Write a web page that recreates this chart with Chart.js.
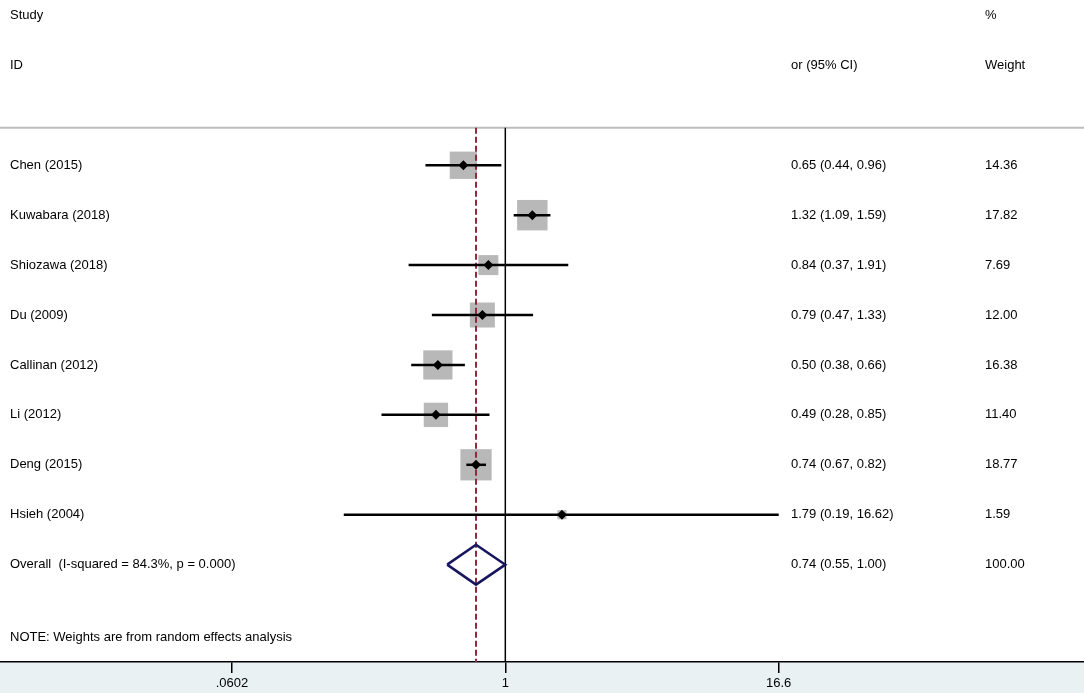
<!DOCTYPE html>
<html>
<head>
<meta charset="utf-8">
<script src="https://cdn.jsdelivr.net/npm/chart.js@4"></script>
<style>
  body { margin: 0; background: #fff; }
  #wrap { width: 1084px; height: 693px; }
</style>
</head>
<body>
<div id="wrap"><canvas id="forestChart" width="1084" height="693"></canvas></div>
<script>
// study data
const studies = ['Chen (2015)', 'Kuwabara (2018)', 'Shiozawa (2018)', 'Du (2009)',
  'Callinan (2012)', 'Li (2012)', 'Deng (2015)', 'Hsieh (2004)'];
const orValues = [0.65, 1.32, 0.84, 0.79, 0.50, 0.49, 0.74, 1.79];
const ciLow = [0.44, 1.09, 0.37, 0.47, 0.38, 0.28, 0.67, 0.19];
const ciHigh = [0.96, 1.59, 1.91, 1.33, 0.66, 0.85, 0.82, 16.62];
const weights = [14.36, 17.82, 7.69, 12.00, 16.38, 11.40, 18.77, 1.59];

const overallLabel = 'Overall  (I-squared = 84.3%, p = 0.000)';
const overallOr = 0.74;
const overallLow = 0.55;
const overallHigh = 1.00;
const overallWeight = 100.00;

const xTicks = [0.0602, 1, 16.6];
const xTickLabels = ['.0602', '1', '16.6'];

// layout helpers (rows on the y scale)
const X_MIN = 0.005548, X_MAX = 383.2;
const Y_MIN = -2.31, Y_MAX = 10.95;
const ROW_STUDY_HDR = -2, ROW_ID_HDR = -1, ROW_RULE = 0.25, ROW_OVERALL = 9, ROW_NOTE = 10.45;
const rows = studies.map((s, i) => i + 1);
const FONT = '13px "Liberation Sans", Arial, sans-serif';

const lineDs = (data, color, width, dash, order) => ({
  type: 'scatter', data, showLine: true, borderColor: color, borderWidth: width,
  borderDash: dash || [], pointRadius: 0, fill: false, tension: 0, order
});

const datasets = [];

// point estimates (black diamonds), on top
datasets.push({
  type: 'scatter',
  data: orValues.map((v, i) => ({ x: v, y: rows[i] })),
  pointStyle: 'rectRot', pointRadius: 5, backgroundColor: '#000', borderWidth: 0, order: 0
});

// confidence intervals
studies.forEach((s, i) => {
  datasets.push(lineDs([{ x: ciLow[i], y: rows[i] }, { x: ciHigh[i], y: rows[i] }], '#000', 2.5, null, 1));
});

// weight boxes
datasets.push({
  type: 'scatter',
  data: orValues.map((v, i) => ({ x: v, y: rows[i] })),
  pointStyle: 'rect', pointRadius: weights.map(w => 5.1 * Math.sqrt(w)),
  backgroundColor: '#b8b8b8', borderWidth: 0, order: 3
});

// overall diamond
datasets.push(lineDs([
  { x: overallLow, y: ROW_OVERALL },
  { x: overallOr, y: ROW_OVERALL - 0.4 },
  { x: overallHigh, y: ROW_OVERALL },
  { x: overallOr, y: ROW_OVERALL + 0.4 },
  { x: overallLow, y: ROW_OVERALL }
], '#16165e', 2.5, null, 1));

// reference lines
datasets.push(lineDs([{ x: overallOr, y: ROW_RULE }, { x: overallOr, y: Y_MAX }], '#8e2a3e', 2, [6, 3], 2));
datasets.push(lineDs([{ x: 1, y: ROW_RULE }, { x: 1, y: Y_MAX }], '#000', 1.5, null, 2));
datasets.push(lineDs([{ x: X_MIN, y: ROW_RULE }, { x: X_MAX, y: ROW_RULE }], '#bdbdbd', 2, null, 4));

// text columns and bottom background
const tablePlugin = {
  id: 'tablePlugin',
  beforeDraw(chart) {
    const { ctx, chartArea, width, height } = chart;
    ctx.save();
    ctx.fillStyle = '#fff';
    ctx.fillRect(0, 0, width, height);
    ctx.fillStyle = '#e9f1f3';
    ctx.fillRect(0, chartArea.bottom, width, height - chartArea.bottom);
    ctx.restore();
  },
  afterDraw(chart) {
    const { ctx } = chart;
    const y = chart.scales.y;
    ctx.save();
    ctx.font = FONT;
    ctx.fillStyle = '#000';
    ctx.textBaseline = 'middle';
    ctx.textAlign = 'left';
    const put = (t, x, row) => ctx.fillText(t, x, y.getPixelForValue(row));
    put('Study', 10, ROW_STUDY_HDR);
    put('ID', 10, ROW_ID_HDR);
    put('or (95% CI)', 791, ROW_ID_HDR);
    put('%', 985, ROW_STUDY_HDR);
    put('Weight', 985, ROW_ID_HDR);
    studies.forEach((s, i) => {
      put(s, 10, rows[i]);
      put(orValues[i].toFixed(2) + ' (' + ciLow[i].toFixed(2) + ', ' + ciHigh[i].toFixed(2) + ')', 791, rows[i]);
      put(weights[i].toFixed(2), 985, rows[i]);
    });
    put(overallLabel, 10, ROW_OVERALL);
    put(overallOr.toFixed(2) + ' (' + overallLow.toFixed(2) + ', ' + overallHigh.toFixed(2) + ')', 791, ROW_OVERALL);
    put(overallWeight.toFixed(2), 985, ROW_OVERALL);
    put('NOTE: Weights are from random effects analysis', 10, ROW_NOTE);
    ctx.restore();
  }
};

const ctx = document.getElementById('forestChart').getContext('2d');
new Chart(ctx, {
  type: 'scatter',
  data: { datasets },
  options: {
    responsive: false,
    animation: false,
    events: [],
    layout: { padding: 0, autoPadding: false },
    plugins: { legend: { display: false }, tooltip: { enabled: false } },
    scales: {
      x: {
        type: 'logarithmic',
        min: X_MIN,
        max: X_MAX,
        bounds: 'data',
        afterBuildTicks: scale => { scale.ticks = xTicks.map(v => ({ value: v })); },
        afterFit: scale => { scale.height = 31; },
        grid: { drawOnChartArea: false, drawTicks: true, tickLength: 11, color: '#000', lineWidth: 1.5 },
        border: { display: true, color: '#000', width: 1.5 },
        ticks: {
          autoSkip: false,
          maxRotation: 0,
          padding: 3,
          color: '#000',
          font: { family: '"Liberation Sans", Arial, sans-serif', size: 13 },
          callback: (v) => {
            const i = xTicks.indexOf(v);
            return i >= 0 ? xTickLabels[i] : '';
          }
        }
      },
      y: {
        type: 'linear',
        display: false,
        reverse: true,
        min: Y_MIN,
        max: Y_MAX
      }
    }
  },
  plugins: [tablePlugin]
});
</script>
</body>
</html>
